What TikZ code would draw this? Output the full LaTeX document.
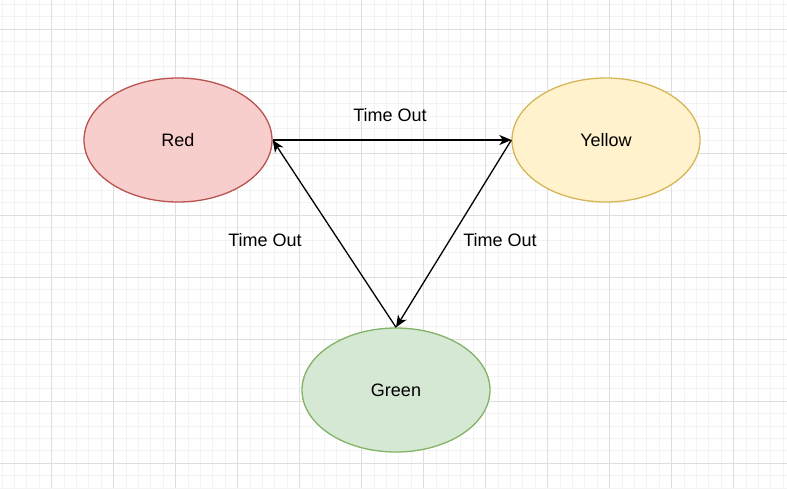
\documentclass[tikz,border=0pt]{standalone}
\usepackage{fontspec}
\setmainfont{Liberation Sans}
\usepackage{xcolor}
\usetikzlibrary{shapes.geometric,arrows.meta}
\definecolor{redfill}{HTML}{F8CECC}
\definecolor{redline}{HTML}{B85450}
\definecolor{yellowfill}{HTML}{FFF2CC}
\definecolor{yellowline}{HTML}{D6B656}
\definecolor{greenfill}{HTML}{D5E8D4}
\definecolor{greenline}{HTML}{82B366}
\definecolor{minorgrid}{HTML}{F3F3F3}
\definecolor{majorgrid}{HTML}{DEDEDE}

\begin{document}
\begin{tikzpicture}[x=1pt, y=-1pt,
    state/.style={ellipse, minimum width=188pt, minimum height=124pt,
                  line width=1.3pt, inner sep=0pt,
                  font=\fontsize{18}{20}\selectfont},
    trans/.style={-{Stealth[length=12pt,width=10pt,inset=3.5pt]}, line width=1.3pt},
    tlabel/.style={font=\fontsize{18}{20}\selectfont}]
  \useasboundingbox (0,0) rectangle (787,488);
  \fill[white] (0,0) rectangle (787,488);
  % grid
  \foreach \i in {-4,...,59} {
    \pgfmathsetmacro{\gx}{51.7+12.4*\i}
    \pgfmathsetmacro{\gy}{29.3+12.4*\i}
    \draw[minorgrid, line width=1pt] (\gx,0) -- (\gx,488);
    \draw[minorgrid, line width=1pt] (0,\gy) -- (787,\gy);
  }
  \foreach \i in {-1,...,12} {
    \pgfmathsetmacro{\gx}{51.7+62*\i}
    \pgfmathsetmacro{\gy}{29.3+62*\i}
    \draw[majorgrid, line width=1pt] (\gx,0) -- (\gx,488);
    \draw[majorgrid, line width=1pt] (0,\gy) -- (787,\gy);
  }

  \node[state, fill=redfill, draw=redline] (red) at (178,140) {Red};
  \node[state, fill=yellowfill, draw=yellowline] (yellow) at (606,140) {Yellow};
  \node[state, fill=greenfill, draw=greenline] (green) at (396,390) {Green};

  \draw[trans] (red.east) -- (yellow.west);
  \draw[trans] (yellow.west) -- (green.north);
  \draw[trans] (green.north) -- (red.east);

  \node[tlabel] (toptime) at (390,115) {Time Out};
  \node[tlabel] (righttime) at (500,240) {Time Out};
  \node[tlabel] (lefttime) at (265,240) {Time Out};
\end{tikzpicture}
\end{document}
